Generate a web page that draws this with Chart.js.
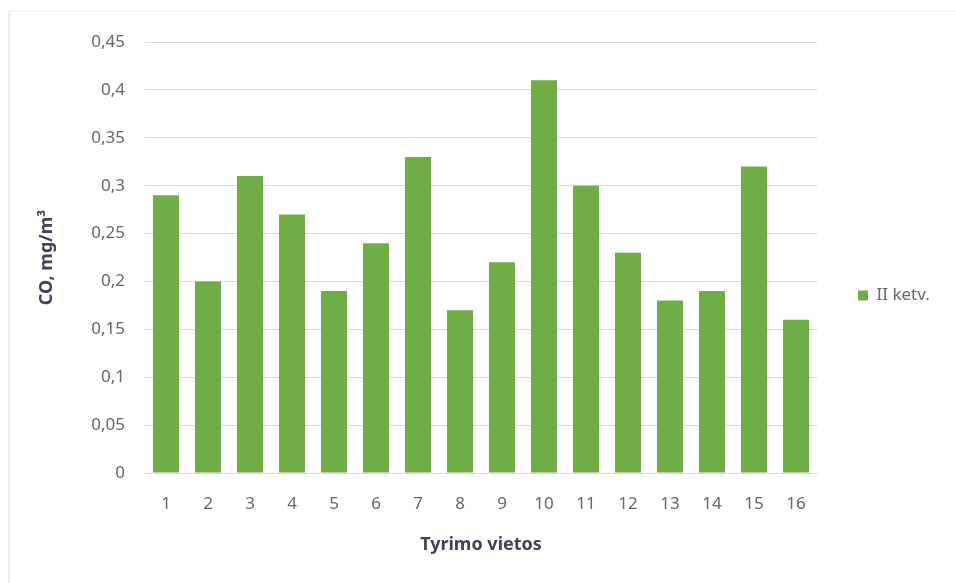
<!DOCTYPE html>
<html>
<head>
<meta charset="utf-8">
<script src="https://cdn.jsdelivr.net/npm/chart.js@4.4.1/dist/chart.umd.min.js"></script>
<style>
  html, body { margin: 0; padding: 0; background: #fff; }
  #wrap { position: absolute; left: 0; top: 0; width: 956px; height: 583px; }
  #frame { position: absolute; left: 8px; top: 11px; right: 0; bottom: 0; border-left: 2px solid #ececec; border-top: 1px solid #ececec; }
  canvas { position: absolute; left: 0; top: 0; }
</style>
</head>
<body>
<div id="wrap">
  <div id="frame"></div>
  <canvas id="c" width="956" height="583"></canvas>
</div>
<script>
const categories = ["1","2","3","4","5","6","7","8","9","10","11","12","13","14","15","16"];
const seriesName = "II ketv.";
const values = [0.29, 0.20, 0.31, 0.27, 0.19, 0.24, 0.33, 0.17, 0.22, 0.41, 0.30, 0.23, 0.18, 0.19, 0.32, 0.16];
const yTitle = "CO, mg/m³";
const xTitle = "Tyrimo vietos";

const FONT = "'Noto Sans', sans-serif";
const GRAY = "#666666";
const TITLE = "#3F4452";

const legendFix = {
  id: 'legendFix',
  afterInit(chart) {
    const lg = chart.legend;
    if (!lg) return;
    const orig = lg.fit.bind(lg);
    lg.fit = function () { orig(); this.width = 139; };
  },
  afterLayout(chart) {
    const lg = chart.legend;
    if (!lg) return;
    lg.left = 848; lg.right = 848 + 108; lg.width = 108;
    lg.top = 277; lg.bottom = 277 + 44; lg.height = 44;
  }
};

new Chart(document.getElementById('c'), {
  type: 'bar',
  data: {
    labels: categories,
    datasets: [{
      label: seriesName,
      data: values,
      backgroundColor: '#70AD47',
      borderWidth: 0,
      barPercentage: 0.62,
      categoryPercentage: 1.0
    }]
  },
  options: {
    responsive: false,
    animation: false,
    devicePixelRatio: 1,
    layout: { padding: { left: 30, right: 0, top: 42, bottom: 0 } },
    plugins: {
      legend: {
        position: 'right',
        align: 'start',
        labels: {
          boxWidth: 10, boxHeight: 10, padding: 10,
          color: GRAY,
          font: { family: FONT, size: 17 }
        }
      },
      tooltip: { enabled: false }
    },
    scales: {
      x: {
        grid: { display: false, drawTicks: false },
        border: { display: true, color: '#d9d9d9', width: 1 },
        ticks: { color: GRAY, font: { family: FONT, size: 17 }, padding: 21, maxRotation: 0 },
        title: { display: true, text: xTitle, color: TITLE, font: { family: FONT, size: 18, weight: 'bold' }, padding: { top: 0, bottom: 27 } },
        afterFit(s) { s.height = 110; }
      },
      y: {
        min: 0, max: 0.45,
        grid: { color: '#d9d9d9', drawTicks: false },
        border: { display: false },
        ticks: {
          stepSize: 0.05, padding: 20, color: GRAY,
          font: { family: FONT, size: 17 },
          callback: v => (Math.round(v * 100) / 100).toString().replace('.', ',')
        },
        title: { display: true, text: yTitle, color: TITLE, font: { family: FONT, size: 18, weight: 'bold' }, padding: { top: 6, bottom: 0 } },
        afterFit(s) { s.width = 115; }
      }
    }
  },
  plugins: [legendFix]
});
</script>
</body>
</html>
